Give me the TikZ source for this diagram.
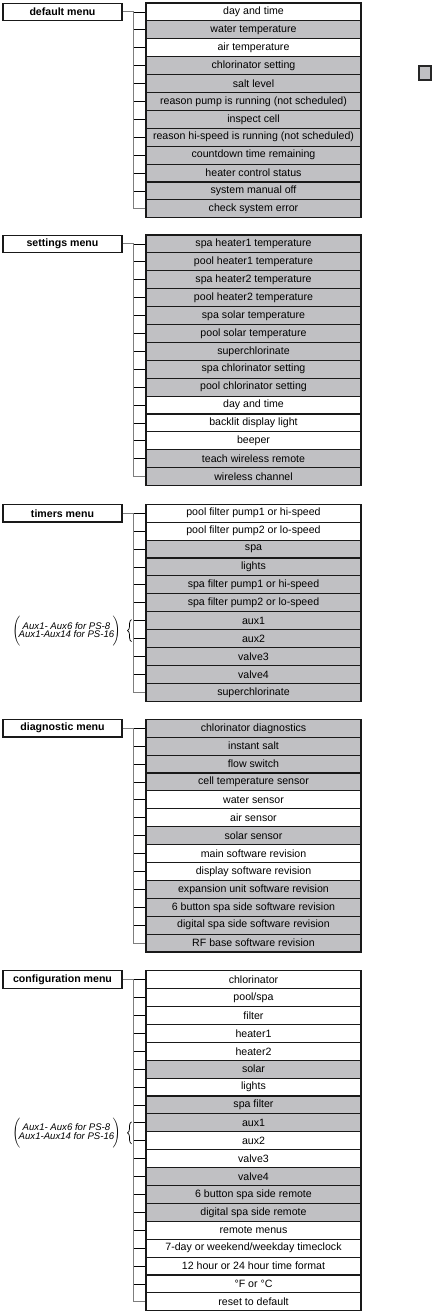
\documentclass[tikz,border=0pt]{standalone}
\usepackage{fontspec}
\setmainfont{Liberation Sans}
\usetikzlibrary{decorations.pathreplacing,calc}
\definecolor{gr}{RGB}{192,192,195}
\colorlet{wh}{white}
\definecolor{spinec}{RGB}{125,125,125}
\tikzset{
  item/.style={draw=black!90, line width=1.1pt, minimum width=215pt, minimum height=17.9pt, inner sep=0pt, font=\fontsize{10.6}{12}\selectfont},
  menubox/.style={draw=black!90, fill=white, line width=1.1pt, minimum width=119pt, minimum height=17.5pt, inner sep=0pt, font=\fontsize{10.6}{12}\selectfont\bfseries},
  tick/.style={draw=black, line width=0.9pt},
  spine/.style={draw=spinec, line width=1pt},
  auxbrace/.style={draw=black, line width=0.7pt, decorate, decoration={brace, amplitude=4pt}},
  auxlabel/.style={inner sep=0pt, font=\fontsize{9.6}{9.6}\selectfont\itshape},
  legendbox/.style={draw=black!85, fill=gr, line width=1.1pt, minimum width=12pt, minimum height=14pt, inner sep=0pt}
}
\newcommand{\drawmenu}[4]{%
  \node[menubox] (#1m) at (62.5, #3+8.95) {#2};
  \foreach \f/\t [count=\i] in {#4} {
    \node[item, fill=\f] (#1\i) at (253.5, #3+\i*17.9-8.95) {\t};
    \coordinate (#1j\i) at (133, #3+\i*17.9-8.95);
    \xdef\lastN{\i}
  }
  \foreach \i in {1,...,\lastN} { \draw[tick] (#1j\i) -- (#1\i.west); }
  \draw[spine] (#1m.east) -- (#1j1) -- (#1j\lastN) -- (#1\lastN.west);
}
\newcommand{\auxtext}{$\Biggl(\!\begin{tabular}{@{}c@{}}\itshape Aux1- Aux6 for PS-8\\[-1pt] \itshape Aux1-Aux14 for PS-16\end{tabular}\!\Biggr)$}
\begin{document}
\begin{tikzpicture}[x=1pt,y=-1pt]
\useasboundingbox (0,0) rectangle (434,1312);

\drawmenu{d}{default menu}{3}{wh/{day and time}, gr/{water temperature}, wh/{air temperature}, gr/{chlorinator setting}, gr/{salt level}, gr/{reason pump is running (not scheduled)}, gr/{inspect cell}, gr/{reason hi-speed is running (not scheduled)}, gr/{countdown time remaining}, gr/{heater control status}, gr/{system manual off}, gr/{check system error}}

\drawmenu{s}{settings menu}{235}{gr/{spa heater1 temperature}, gr/{pool heater1 temperature}, gr/{spa heater2 temperature}, gr/{pool heater2 temperature}, gr/{spa solar temperature}, gr/{pool solar temperature}, gr/{superchlorinate}, gr/{spa chlorinator setting}, gr/{pool chlorinator setting}, wh/{day and time}, wh/{backlit display light}, wh/{beeper}, gr/{teach wireless remote}, gr/{wireless channel}}

\drawmenu{t}{timers menu}{504.3}{wh/{pool filter pump1 or hi-speed}, wh/{pool filter pump2 or lo-speed}, gr/{spa}, gr/{lights}, gr/{spa filter pump1 or hi-speed}, gr/{spa filter pump2 or lo-speed}, gr/{aux1}, gr/{aux2}, gr/{valve3}, gr/{valve4}, gr/{superchlorinate}}

\drawmenu{g}{diagnostic menu}{719.3}{gr/{chlorinator diagnostics}, gr/{instant salt}, gr/{flow switch}, gr/{cell temperature sensor}, wh/{water sensor}, wh/{air sensor}, gr/{solar sensor}, wh/{main software revision}, wh/{display software revision}, gr/{expansion unit software revision}, gr/{6 button spa side software revision}, gr/{digital spa side software revision}, gr/{RF base software revision}}

\drawmenu{c}{configuration menu}{970.7}{wh/{chlorinator}, wh/{pool/spa}, wh/{filter}, wh/{heater1}, wh/{heater2}, gr/{solar}, wh/{lights}, gr/{spa filter}, gr/{aux1}, wh/{aux2}, wh/{valve3}, gr/{valve4}, gr/{6 button spa side remote}, gr/{digital spa side remote}, wh/{remote menus}, wh/{7-day or weekend/weekday timeclock}, wh/{12 hour or 24 hour time format}, wh/{°F or °C}, wh/{reset to default}}

% aux annotations
\coordinate (tb1) at ($(tj7)+(-1.5,-1)$);
\coordinate (tb2) at ($(tj8)+(-1.5,3)$);
\draw[auxbrace] (tb2) -- (tb1);
\node[auxlabel] (tl) at (66.5, 631.5) {\auxtext};

\coordinate (cb1) at ($(cj9)+(-1.5,-1)$);
\coordinate (cb2) at ($(cj10)+(-1.5,3)$);
\draw[auxbrace] (cb2) -- (cb1);
\node[auxlabel] (cl) at (66.5, 1133) {\auxtext};

% legend square
\node[legendbox] (lg) at (425, 73) {};
\end{tikzpicture}
\end{document}
